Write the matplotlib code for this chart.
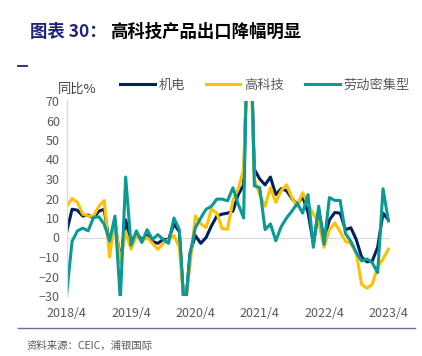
import matplotlib.pyplot as plt
from matplotlib.lines import Line2D
import numpy as np

plt.rcParams['font.family'] = ['Noto Sans CJK SC', 'DejaVu Sans']

# 月份: 2018/4 - 2023/4
months = [f"{2018 + (3 + k) // 12}/{(3 + k) % 12 + 1}" for k in range(61)]
tick_labels = ["2018/4", "2019/4", "2020/4", "2021/4", "2022/4", "2023/4"]

jidian = [3, 14.5, 14, 11, 11.5, 10, 13.5, 14.5, -4, 9,
          -13, 9, -2, 2, -1, 1, -2, -3, -1, -1,
          7, 3, -40, -8, 1, -3, 0, 6, 11, 12,
          12.5, 13.5, 22, 27, 130, 35, 30, 27, 31, 22,
          25, 24, 20, 17, 21, 13, -3, 14, -1, 9,
          12.8, 12.5, 4, 5, -1, -10, -12.5, -12, -5, 12.5,
          9]
gaokeji = [16, 20, 18, 12, 11, 11, 16, 19, -10, 9,
           -13, 3, -6, 1, -2, 0, -3, -6, -3, -1,
           1, -5, -38, -14, 11, 7, 5, 14.5, 12.5, 4.5,
           4.3, 19, 25, 35, 120, 30, 22, 16, 25.5, 18,
           24, 27, 20.5, 16, 23, 17, 12, 8, -5, 4,
           7.5, 3, -2, -3, -8, -24, -26, -24, -15, -11,
           -6]
laodong = [-29, -2, 3.4, 4.8, 3.4, 10.3, 10.6, 6.8, -1.7, 11,
           -32, 31, -4, 3.4, -2.6, 4, -1, 1.5, -1, -3,
           10, 4, -40, -8.5, 5, 10, 14.5, 16, 19.7, 19.7,
           18.8, 25.5, 17, 10, 150, 26.5, 25.6, 4, 7, -1.7,
           5.5, 10, 13.5, 17.5, 12.5, 22, -5, 16, -3.5, 20.5,
           19, 19, 2, -2, -7.7, -12, -11, -13, -18, 25,
           8.5]

fig = plt.figure(figsize=(4.22, 3.56), dpi=100)
ax = fig.add_axes([66.7 / 422, 1 - 296 / 356, (390 - 66.7) / 422, 195 / 356])

x = np.arange(len(months))
ax.plot(x, jidian, color="#002060", lw=2.2, label="机电")
ax.plot(x, gaokeji, color="#FFC000", lw=2.2, label="高科技")
ax.plot(x, laodong, color="#0A9A96", lw=2.2, label="劳动密集型")
ax.axhline(0, color="#D9D9D9", lw=0.9, zorder=0)

ax.set_ylim(-30, 70)
ax.set_xlim(0, 60.3)
ax.set_yticks(np.arange(-30, 71, 10))
ax.set_xticks([months.index(t) for t in tick_labels])
ax.set_xticklabels(tick_labels)
ax.tick_params(length=0, labelsize=9, colors="#595959", pad=5)
ax.tick_params(axis="x", pad=8)
for s in ["top", "right", "bottom"]:
    ax.spines[s].set_visible(False)
ax.spines["left"].set_color("#D9D9D9")
ax.spines["left"].set_linewidth(0.9)

fig.legend(loc="center", bbox_to_anchor=(265 / 422, 1 - 85 / 356), ncol=3,
           frameon=False, fontsize=9.5, labelcolor="#595959",
           handlelength=2.6, columnspacing=1.6, handletextpad=0.3)

fig.text(58 / 422, 1 - 89 / 356, "同比%", fontsize=9.5, color="#404040", va="center")

# 标题
t1 = fig.text(30 / 422, 1 - 32 / 356, "图表 30：", fontsize=12.5, fontweight="bold",
              color="#1F2478", va="center")
fig.canvas.draw()
bb = t1.get_window_extent()
fig.text(bb.x1 / 422 + 3 / 422, 1 - 32 / 356, "高科技产品出口降幅明显", fontsize=12.5,
         fontweight="bold", color="black", va="center")

fig.add_artist(Line2D([18 / 422, 27 / 422], [1 - 65.5 / 356] * 2, color="#1F2478", lw=1.3))
fig.add_artist(Line2D([18 / 422, 415 / 422], [1 - 328 / 356] * 2, color="#6E6A9E", lw=1))
fig.text(27 / 422, 1 - 341 / 356, "资料来源：CEIC，浦银国际", fontsize=7.5, color="#595959", va="top")

fig.savefig("out.png", dpi=100)
